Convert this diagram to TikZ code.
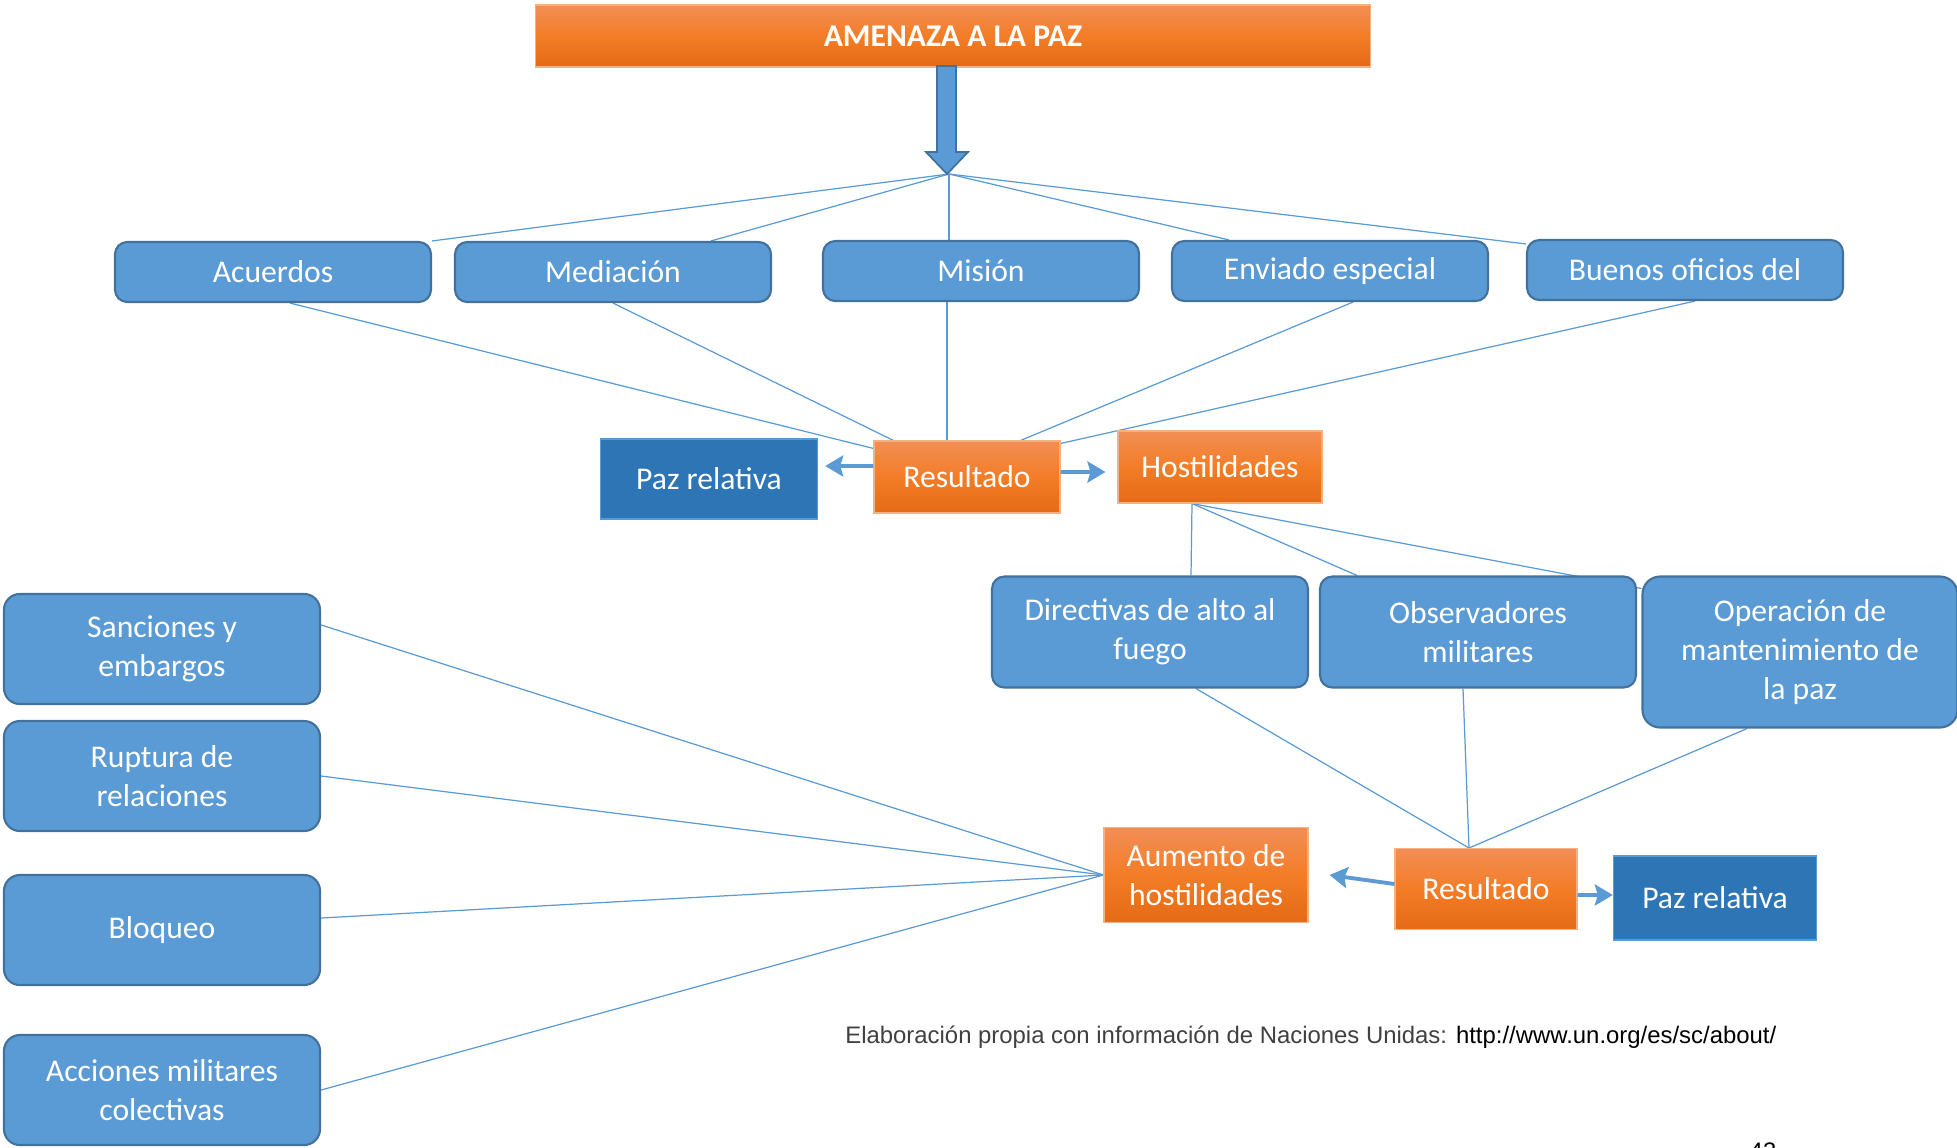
\documentclass[tikz,border=0pt]{standalone}
\usepackage{fontspec}
\setmainfont{Carlito}
\newfontfamily\capfont{Liberation Sans}
\usetikzlibrary{arrows.meta,backgrounds}

\definecolor{boxblue}{HTML}{5B9BD5}
\definecolor{edgeblue}{HTML}{41719C}
\definecolor{deepblue}{HTML}{2E75B6}
\definecolor{orangetop}{HTML}{F28E55}
\definecolor{orangemid}{HTML}{F37D27}
\definecolor{orangebot}{HTML}{E56A15}
\definecolor{orangeline}{HTML}{F4B183}
\definecolor{capgray}{HTML}{404040}

\tikzset{
  lbl/.style={font=\fontsize{18}{22}\selectfont, text=white, align=center, inner sep=0pt},
  bluebox/.style={lbl, draw=edgeblue, line width=1.2pt, fill=boxblue, rounded corners=7pt},
  topbox/.style={bluebox, minimum width=63.2mm, minimum height=12mm},
  midbox/.style={bluebox, minimum width=63.2mm, minimum height=22.2mm},
  sidebox/.style={bluebox, minimum width=63.2mm, minimum height=22mm, rounded corners=9pt},
  orangebox/.style={lbl, draw=orangeline, line width=0.6pt, top color=orangetop, bottom color=orangebot, middle color=orangemid},
  pazbox/.style={lbl, draw=boxblue, line width=0.8pt, fill=deepblue},
  link/.style={draw=boxblue, line width=0.7pt},
  conn/.style={draw=boxblue, line width=2.2pt, -{Stealth[length=3.6mm,width=4.2mm,inset=0.6mm]}},
}

\begin{document}
\begin{tikzpicture}[x=0.2mm,y=-0.2mm]
\useasboundingbox (0,0) rectangle (1957,1147);

% titulo y flecha
\node[orangebox, minimum width=167mm, minimum height=12.4mm, font=\bfseries\fontsize{18}{22}\selectfont] (title) at (953,36) {AMENAZA A LA PAZ};
\draw[fill=boxblue, draw=edgeblue, line width=1pt] (937,66) -- (956,66) -- (956,152) -- (968,152) -- (947,174) -- (926,152) -- (937,152) -- cycle;
\coordinate (fan) at (949,174);

% primera fila
\node[topbox] (acu) at (273,272) {Acuerdos};
\node[topbox] (med) at (613,272) {Mediación};
\node[topbox] (mis) at (981,271) {Misión};
\node[topbox] (env) at (1330,271) {Enviado especial};
\node[topbox] (bue) at (1685,270) {Buenos oficios del};

\node[orangebox, minimum width=37.2mm, minimum height=14.4mm] (res1) at (967,477) {Resultado};
\node[pazbox, minimum width=43.4mm, minimum height=16mm] (paz1) at (709,479) {Paz relativa};
\node[orangebox, minimum width=40.8mm, minimum height=14.4mm] (hos) at (1220,467) {Hostilidades};

% segunda fila
\node[midbox] (dir) at (1150,632) {Directivas de alto al\\fuego};
\node[midbox] (obs) at (1478,632) {Observadores\\militares};
\node[bluebox, minimum width=63mm, minimum height=30.2mm, rounded corners=10pt] (ope) at (1800,652) {Operación de\\mantenimiento de\\la paz};

\node[orangebox, minimum width=36.4mm, minimum height=16.2mm] (res2) at (1486,889) {Resultado};
\node[pazbox, minimum width=40.6mm, minimum height=16.8mm] (paz2) at (1715,898) {Paz relativa};
\node[orangebox, minimum width=40.8mm, minimum height=19mm] (aum) at (1206,875) {Aumento de\\hostilidades};

% columna izquierda
\node[sidebox] (san) at (162,649) {Sanciones y\\embargos};
\node[sidebox] (rup) at (162,776) {Ruptura de\\relaciones};
\node[sidebox] (blo) at (162,930) {Bloqueo};
\node[sidebox] (acc) at (162,1090) {Acciones militares\\colectivas};

\node[anchor=base west, inner sep=0pt, font=\capfont\fontsize{13.6}{16}\selectfont] (cap) at (845,1043)
  {\textcolor{capgray}{Elaboración propia con información de Naciones Unidas:} http://www.un.org/es/sc/about/};
\node[anchor=base, inner sep=0pt, font=\capfont\fontsize{13.6}{16}\selectfont] (pag) at (1763,1159) {43};

\coordinate (m1) at ([xshift=-6.8mm]mis.south);

\begin{pgfonlayer}{background}
\draw[link] (fan) -- (acu.north east);
\draw[link] (fan) -- ([xshift=19.6mm]med.north);
\draw[link] (fan) -- (fan |- mis.north);
\draw[link] (fan) -- ([xshift=-20.2mm]env.north);
\draw[link] (fan) -- ([yshift=-1mm]bue.north west);

\draw[link] ([xshift=3.4mm]acu.south) -- ([yshift=-1.6mm]res1.north west);
\draw[link] (med.south) -- ([xshift=4mm]res1.north west);
\draw[link] (m1) -- (m1 |- res1.north);
\draw[link] ([xshift=4.6mm]env.south) -- ([xshift=-8mm]res1.north east);
\draw[link] ([xshift=2mm]bue.south) -- ([yshift=-0.6mm]res1.north east);

\draw[link] ([xshift=-5.6mm]hos.south) -- ([xshift=8.2mm]dir.north);
\draw[link] ([xshift=-5.6mm]hos.south) -- ([xshift=-24.2mm]obs.north);
\draw[link] ([xshift=-5.6mm]hos.south) -- ([yshift=-2.6mm]ope.north west);

\draw[link] ([xshift=9.2mm]dir.south) -- ([xshift=-3.4mm]res2.north);
\draw[link] ([xshift=-3mm]obs.south) -- ([xshift=-3.4mm]res2.north);
\draw[link] ([xshift=-10.6mm]ope.south) -- ([xshift=-3.4mm]res2.north);

\draw[link] ([yshift=-6.4mm]san.north east) -- (aum.west);
\draw[link] (rup.east) -- (aum.west);
\draw[link] ([yshift=2.4mm]blo.east) -- (aum.west);
\draw[link] (acc.east) -- (aum.west);
\end{pgfonlayer}

% flechas de resultado
\draw[conn] ([yshift=2.2mm]res1.west) -- ([xshift=1.4mm,yshift=2.6mm]paz1.east);
\draw[conn] ([yshift=1mm]res1.east) -- ([xshift=-2.4mm,yshift=-1mm]hos.west);
\draw[conn] ([yshift=1mm]res2.west) -- ([xshift=4.2mm]aum.east);
\draw[conn] ([yshift=-1.2mm]res2.east) -- ([yshift=0.6mm]paz2.west);
\end{tikzpicture}
\end{document}
